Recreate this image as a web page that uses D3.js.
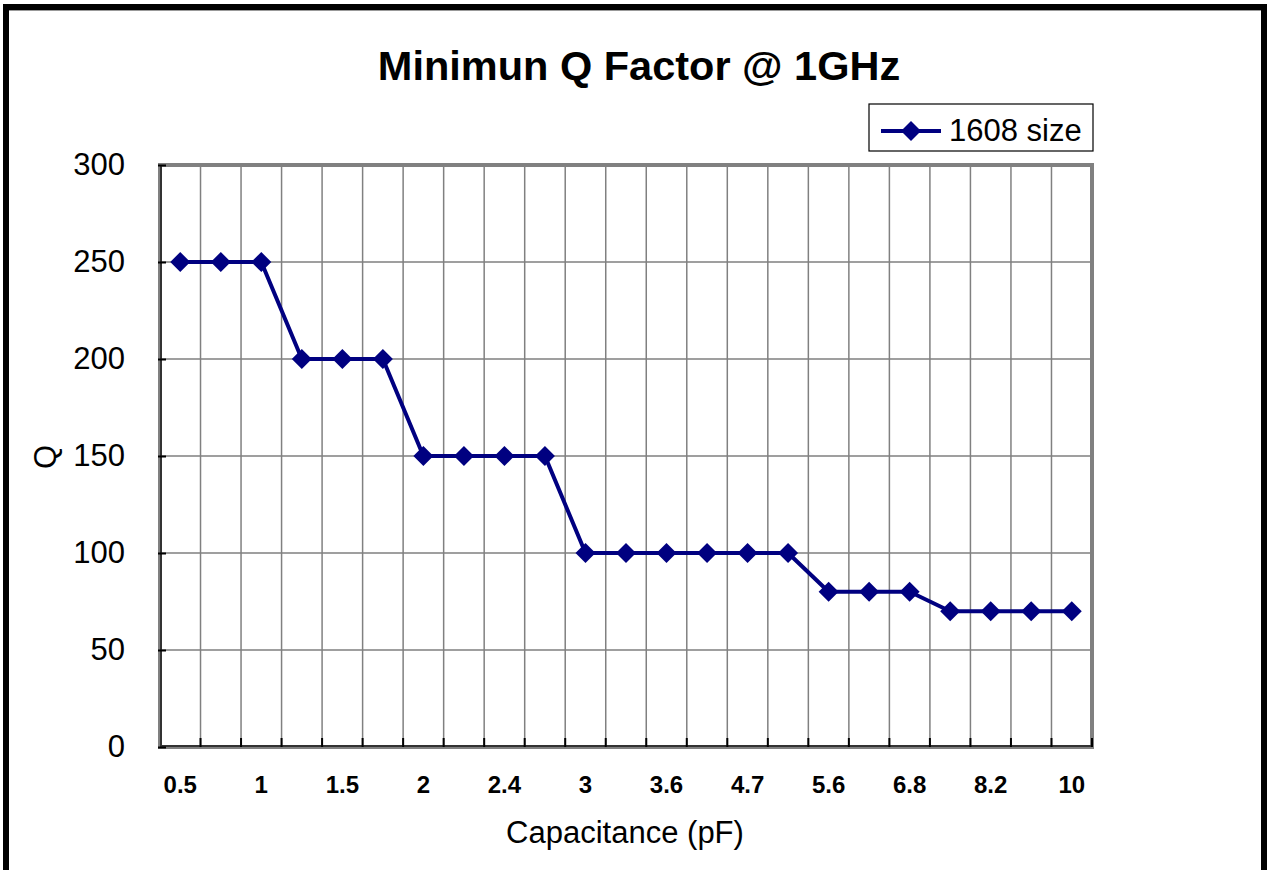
<!DOCTYPE html>
<html>
<head>
<meta charset="utf-8">
<script src="https://cdn.jsdelivr.net/npm/d3@7"></script>
<style>
  body{margin:0;background:#fff;}
  text{font-family:"Liberation Sans",Arial,sans-serif;}
</style>
</head>
<body>
<svg id="chart"></svg>
<script>
let width = 1267, height = 870;
// capacitance steps (pF) and minimum Q
const capacitance = ['0.5','0.75','1','1.2','1.5','1.8','2','2.2','2.4','2.7','3','3.3','3.6','3.9','4.7','5.1','5.6','6.2','6.8','7.5','8.2','9.1','10'];
const qValues = [250,250,250,200,200,200,150,150,150,150,100,100,100,100,100,100,80,80,80,70,70,70,70];
const yTicks = [0,50,100,150,200,250,300];
const seriesName = '1608 size';

const plot = {left:160, right:1092, top:165, bottom:747};
const navy = '#000080';

const svg = d3.select('#chart').attr('width',width).attr('height',height);

// outer frame
svg.append('rect').attr('x',6).attr('y',7).attr('width',1258).attr('height',900)
  .attr('fill','#fff').attr('stroke','#000').attr('stroke-width',6);
svg.append('line').attr('x1',9).attr('x2',1261).attr('y1',10.5).attr('y2',10.5)
  .attr('stroke','#999').attr('stroke-width',1);

const x = d3.scaleBand().domain(capacitance).range([plot.left,plot.right]);
const y = d3.scaleLinear().domain([0,300]).range([plot.bottom,plot.top]);

// horizontal grid
svg.append('g').selectAll('line').data(yTicks.slice(1)).join('line')
  .attr('x1',plot.left).attr('x2',plot.right)
  .attr('y1',d=>y(d)).attr('y2',d=>y(d))
  .attr('stroke','#404040').attr('stroke-width',1.2);

// vertical grid at category boundaries
const bounds = capacitance.slice(1);
svg.append('g').selectAll('line').data(bounds).join('line')
  .attr('x1',d=>x(d)).attr('x2',d=>x(d))
  .attr('y1',plot.top).attr('y2',plot.bottom)
  .attr('stroke','#808080').attr('stroke-width',1.5);

// plot area border
svg.append('rect').attr('x',plot.left).attr('y',plot.top)
  .attr('width',plot.right-plot.left).attr('height',plot.bottom-plot.top)
  .attr('fill','none').attr('stroke','#808080').attr('stroke-width',4);

// axes lines
svg.append('line').attr('x1',plot.left+1).attr('x2',plot.left+1).attr('y1',plot.top).attr('y2',plot.bottom)
  .attr('stroke','#333').attr('stroke-width',2);
svg.append('line').attr('x1',plot.left).attr('x2',plot.right).attr('y1',plot.bottom-1).attr('y2',plot.bottom-1)
  .attr('stroke','#333').attr('stroke-width',2);

// y ticks + labels
const yAxis = svg.append('g').attr('transform',`translate(${plot.left},0)`)
  .call(d3.axisLeft(y).tickValues(yTicks).tickSize(-8).tickPadding(35).tickFormat(d3.format('d')));
yAxis.select('.domain').remove();
yAxis.selectAll('.tick line').attr('stroke','#000').attr('stroke-width',2).attr('transform','translate(-2,0)');
yAxis.selectAll('.tick text').attr('font-size',31).attr('fill','#000')
  .attr('font-family','"Liberation Sans",Arial,sans-serif');

// x ticks at boundaries
svg.append('g').selectAll('line').data(bounds.concat(['end'])).join('line')
  .attr('x1',d=>d==='end'?plot.right:x(d)).attr('x2',d=>d==='end'?plot.right:x(d))
  .attr('y1',plot.bottom-9).attr('y2',plot.bottom)
  .attr('stroke','#000').attr('stroke-width',2);

// x labels (every other category)
svg.append('g').selectAll('text').data(capacitance.filter((d,i)=>i%2===0)).join('text')
  .attr('x',d=>x(d)+x.bandwidth()/2).attr('y',793)
  .attr('text-anchor','middle').attr('font-size',24).attr('font-weight','bold')
  .text(d=>d);

// line + markers
const line = d3.line().x((d,i)=>x(capacitance[i])+x.bandwidth()/2).y(d=>y(d));
svg.append('path').datum(qValues).attr('d',line)
  .attr('fill','none').attr('stroke',navy).attr('stroke-width',4).attr('stroke-linejoin','round');

const diamond = d3.symbol().type(d3.symbolSquare).size(200);
svg.append('g').selectAll('path').data(qValues).join('path')
  .attr('d',diamond)
  .attr('transform',(d,i)=>`translate(${x(capacitance[i])+x.bandwidth()/2},${y(d)}) rotate(45)`)
  .attr('fill',navy);

// title
svg.append('text').attr('x',639).attr('y',80).attr('text-anchor','middle')
  .attr('font-size',41.5).attr('font-weight','bold').text('Minimun Q Factor @ 1GHz');

// axis titles
svg.append('text').attr('x',625).attr('y',843).attr('text-anchor','middle')
  .attr('font-size',31).text('Capacitance (pF)');
svg.append('text').attr('transform','translate(56,457) rotate(-90)').attr('text-anchor','middle')
  .attr('font-size',31).text('Q');

// legend
const lg = svg.append('g');
lg.append('rect').attr('x',869).attr('y',104).attr('width',224).attr('height',47)
  .attr('fill','#fff').attr('stroke','#000').attr('stroke-width',1.2);
lg.append('line').attr('x1',881).attr('x2',941).attr('y1',131).attr('y2',131)
  .attr('stroke',navy).attr('stroke-width',4);
lg.append('path').attr('d',diamond).attr('transform','translate(911,131) rotate(45)').attr('fill',navy);
lg.append('text').attr('x',949).attr('y',141).attr('font-size',31).text(seriesName);
</script>
</body>
</html>
